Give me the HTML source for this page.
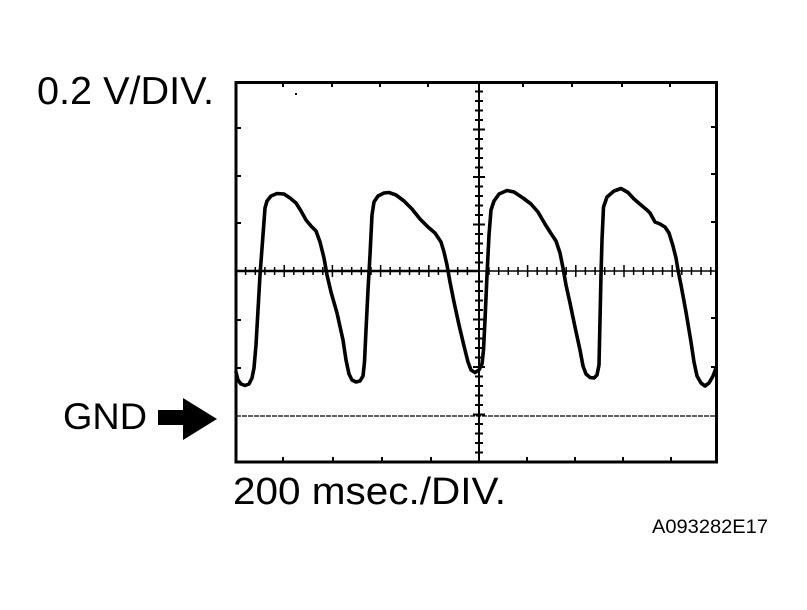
<!DOCTYPE html>
<html>
<head>
<meta charset="utf-8">
<style>
html,body{margin:0;padding:0;background:#fff;}
svg{display:block;}
text{font-family:"Liberation Sans",Arial,sans-serif;fill:#000;}
</style>
</head>
<body>
<svg width="807" height="610" viewBox="0 0 807 610" xmlns="http://www.w3.org/2000/svg">
<rect x="0" y="0" width="807" height="610" fill="#fff"/>

<text x="37" y="104" font-size="38.5" textLength="177" lengthAdjust="spacingAndGlyphs">0.2 V/DIV.</text>
<text x="63" y="429" font-size="37.5" textLength="84" lengthAdjust="spacingAndGlyphs">GND</text>
<text x="233" y="504" font-size="38" textLength="273" lengthAdjust="spacingAndGlyphs">200 msec./DIV.</text>
<text x="652" y="533" font-size="19" textLength="116" lengthAdjust="spacingAndGlyphs">A093282E17</text>

<polygon points="158,410 183,410 183,398 217,419 183,440 183,425 158,425" fill="#000"/>

<rect x="236" y="82.5" width="480.5" height="379.5" fill="none" stroke="#000" stroke-width="3"/>

<g stroke="#000" stroke-width="2">
<line x1="283" y1="82" x2="283" y2="87"/>
<line x1="332" y1="82" x2="332" y2="87"/>
<line x1="380" y1="82" x2="380" y2="87"/>
<line x1="428" y1="82" x2="428" y2="87"/>
<line x1="523" y1="82" x2="523" y2="87"/>
<line x1="572" y1="82" x2="572" y2="87"/>
<line x1="622" y1="82" x2="622" y2="87"/>
<line x1="670" y1="82" x2="670" y2="87"/>
<line x1="283" y1="457" x2="283" y2="462"/>
<line x1="333" y1="457" x2="333" y2="462"/>
<line x1="382" y1="457" x2="382" y2="462"/>
<line x1="431" y1="457" x2="431" y2="462"/>
<line x1="527" y1="457" x2="527" y2="462"/>
<line x1="575" y1="457" x2="575" y2="462"/>
<line x1="623" y1="457" x2="623" y2="462"/>
<line x1="671" y1="457" x2="671" y2="462"/>
<line x1="236" y1="128" x2="241" y2="128"/>
<line x1="236" y1="176" x2="241" y2="176"/>
<line x1="236" y1="223" x2="241" y2="223"/>
<line x1="236" y1="320" x2="241" y2="320"/>
<line x1="236" y1="368" x2="241" y2="368"/>
<line x1="711" y1="127" x2="716" y2="127"/>
<line x1="711" y1="174" x2="716" y2="174"/>
<line x1="711" y1="222" x2="716" y2="222"/>
<line x1="711" y1="318" x2="716" y2="318"/>
<line x1="711" y1="367" x2="716" y2="367"/>
</g>

<line x1="236" y1="271" x2="479" y2="271" stroke="#000" stroke-width="2.5"/>
<line x1="479" y1="271" x2="717" y2="271" stroke="#000" stroke-width="1.5"/>
<line x1="479" y1="82" x2="479" y2="462" stroke="#000" stroke-width="2"/>

<g stroke="#000" stroke-width="1.5">
<line x1="245.6" y1="267" x2="245.6" y2="275"/>
<line x1="255.3" y1="267" x2="255.3" y2="275"/>
<line x1="264.9" y1="267" x2="264.9" y2="275"/>
<line x1="274.6" y1="267" x2="274.6" y2="275"/>
<line x1="284.2" y1="265" x2="284.2" y2="277"/>
<line x1="293.8" y1="267" x2="293.8" y2="275"/>
<line x1="303.5" y1="267" x2="303.5" y2="275"/>
<line x1="313.1" y1="267" x2="313.1" y2="275"/>
<line x1="322.8" y1="267" x2="322.8" y2="275"/>
<line x1="332.4" y1="265" x2="332.4" y2="277"/>
<line x1="342.0" y1="267" x2="342.0" y2="275"/>
<line x1="351.7" y1="267" x2="351.7" y2="275"/>
<line x1="361.3" y1="267" x2="361.3" y2="275"/>
<line x1="371.0" y1="267" x2="371.0" y2="275"/>
<line x1="380.6" y1="265" x2="380.6" y2="277"/>
<line x1="390.2" y1="267" x2="390.2" y2="275"/>
<line x1="399.9" y1="267" x2="399.9" y2="275"/>
<line x1="409.5" y1="267" x2="409.5" y2="275"/>
<line x1="419.2" y1="267" x2="419.2" y2="275"/>
<line x1="428.8" y1="265" x2="428.8" y2="277"/>
<line x1="438.4" y1="267" x2="438.4" y2="275"/>
<line x1="448.1" y1="267" x2="448.1" y2="275"/>
<line x1="457.7" y1="267" x2="457.7" y2="275"/>
<line x1="467.4" y1="267" x2="467.4" y2="275"/>
<line x1="489.0" y1="267" x2="489.0" y2="275"/>
<line x1="498.7" y1="267" x2="498.7" y2="275"/>
<line x1="508.3" y1="267" x2="508.3" y2="275"/>
<line x1="518.0" y1="267" x2="518.0" y2="275"/>
<line x1="527.6" y1="265" x2="527.6" y2="277"/>
<line x1="537.2" y1="267" x2="537.2" y2="275"/>
<line x1="546.9" y1="267" x2="546.9" y2="275"/>
<line x1="556.5" y1="267" x2="556.5" y2="275"/>
<line x1="566.2" y1="267" x2="566.2" y2="275"/>
<line x1="575.8" y1="265" x2="575.8" y2="277"/>
<line x1="585.4" y1="267" x2="585.4" y2="275"/>
<line x1="595.1" y1="267" x2="595.1" y2="275"/>
<line x1="604.7" y1="267" x2="604.7" y2="275"/>
<line x1="614.4" y1="267" x2="614.4" y2="275"/>
<line x1="624.0" y1="265" x2="624.0" y2="277"/>
<line x1="633.6" y1="267" x2="633.6" y2="275"/>
<line x1="643.3" y1="267" x2="643.3" y2="275"/>
<line x1="652.9" y1="267" x2="652.9" y2="275"/>
<line x1="662.6" y1="267" x2="662.6" y2="275"/>
<line x1="672.2" y1="265" x2="672.2" y2="277"/>
<line x1="681.8" y1="267" x2="681.8" y2="275"/>
<line x1="691.5" y1="267" x2="691.5" y2="275"/>
<line x1="701.1" y1="267" x2="701.1" y2="275"/>
<line x1="710.8" y1="267" x2="710.8" y2="275"/>
</g>

<g stroke="#000" stroke-width="2">
<line x1="475" y1="91.5" x2="483" y2="91.5"/>
<line x1="475" y1="101" x2="483" y2="101"/>
<line x1="475" y1="110.5" x2="483" y2="110.5"/>
<line x1="475" y1="120" x2="483" y2="120"/>
<line x1="473" y1="129.5" x2="485" y2="129.5"/>
<line x1="475" y1="139" x2="483" y2="139"/>
<line x1="475" y1="148.5" x2="483" y2="148.5"/>
<line x1="475" y1="158" x2="483" y2="158"/>
<line x1="475" y1="167.5" x2="483" y2="167.5"/>
<line x1="473" y1="177" x2="485" y2="177"/>
<line x1="475" y1="186.5" x2="483" y2="186.5"/>
<line x1="475" y1="196" x2="483" y2="196"/>
<line x1="475" y1="205.5" x2="483" y2="205.5"/>
<line x1="475" y1="215" x2="483" y2="215"/>
<line x1="473" y1="224.5" x2="485" y2="224.5"/>
<line x1="475" y1="234" x2="483" y2="234"/>
<line x1="475" y1="243.5" x2="483" y2="243.5"/>
<line x1="475" y1="253" x2="483" y2="253"/>
<line x1="475" y1="262.5" x2="483" y2="262.5"/>
<line x1="475" y1="281.5" x2="483" y2="281.5"/>
<line x1="475" y1="291" x2="483" y2="291"/>
<line x1="475" y1="300.5" x2="483" y2="300.5"/>
<line x1="475" y1="310" x2="483" y2="310"/>
<line x1="473" y1="319.5" x2="485" y2="319.5"/>
<line x1="475" y1="329" x2="483" y2="329"/>
<line x1="475" y1="338.5" x2="483" y2="338.5"/>
<line x1="475" y1="348" x2="483" y2="348"/>
<line x1="475" y1="357.5" x2="483" y2="357.5"/>
<line x1="473" y1="367" x2="485" y2="367"/>
<line x1="475" y1="376.5" x2="483" y2="376.5"/>
<line x1="475" y1="386" x2="483" y2="386"/>
<line x1="475" y1="395.5" x2="483" y2="395.5"/>
<line x1="475" y1="405" x2="483" y2="405"/>
<line x1="473" y1="414.5" x2="485" y2="414.5"/>
<line x1="475" y1="424" x2="483" y2="424"/>
<line x1="475" y1="433.5" x2="483" y2="433.5"/>
<line x1="475" y1="443" x2="483" y2="443"/>
<line x1="475" y1="452.5" x2="483" y2="452.5"/>
</g>

<line x1="236" y1="416" x2="716" y2="416" stroke="#000" stroke-width="1.2" stroke-dasharray="5 1"/>

<rect x="295" y="93" width="2" height="2" fill="#000"/>

<polyline fill="none" stroke="#000" stroke-width="3.6" stroke-linejoin="round" stroke-linecap="round" points="236,372 238,380 241,384 245,385.5 249,384 252,378 254,368 256,345 258,310 260,275 263,235 265,208 267,201 271,196 277,193.5 284,194 290,198 296,203 301,211 306,220 311,226 316,231 320,242 324,258 327,275 331,292 337,313 343,340 346,360 349,374 352,380 356,382 360,381 363,376 364.5,362 366,330 368,290 370,255 372,215 374,202 378,196 384,193 389,192.5 396,195 404,201 412,209 420,219 428,227 435,233 441,242 444,252 447,265 450,282 454,302 459,325 464,346 468,362 471,370 475,372.5 479,370 482,364 483.5,350 485,320 487,275 489,235 491,210 494,201 499,194 507,190.5 514,192 523,198 531,204 538,212 545,224 550,232 556,241 560,253 563,268 566,285 570,303 575,327 580,350 583,366 586,374 590,377.5 594,378 597,375 599,365 600,320 601,275 602,240 603.5,207 607,197 614,191 621,188.5 628,192.5 634,199 641,205 647,210 650,213 655,222 660,224 665,227 669,233 673,246 676,258 678,270 681,285 686,312 691,342 694,362 697,376 701,383 705,386 709,383 713,376 716,368"/>
</svg>
</body>
</html>
